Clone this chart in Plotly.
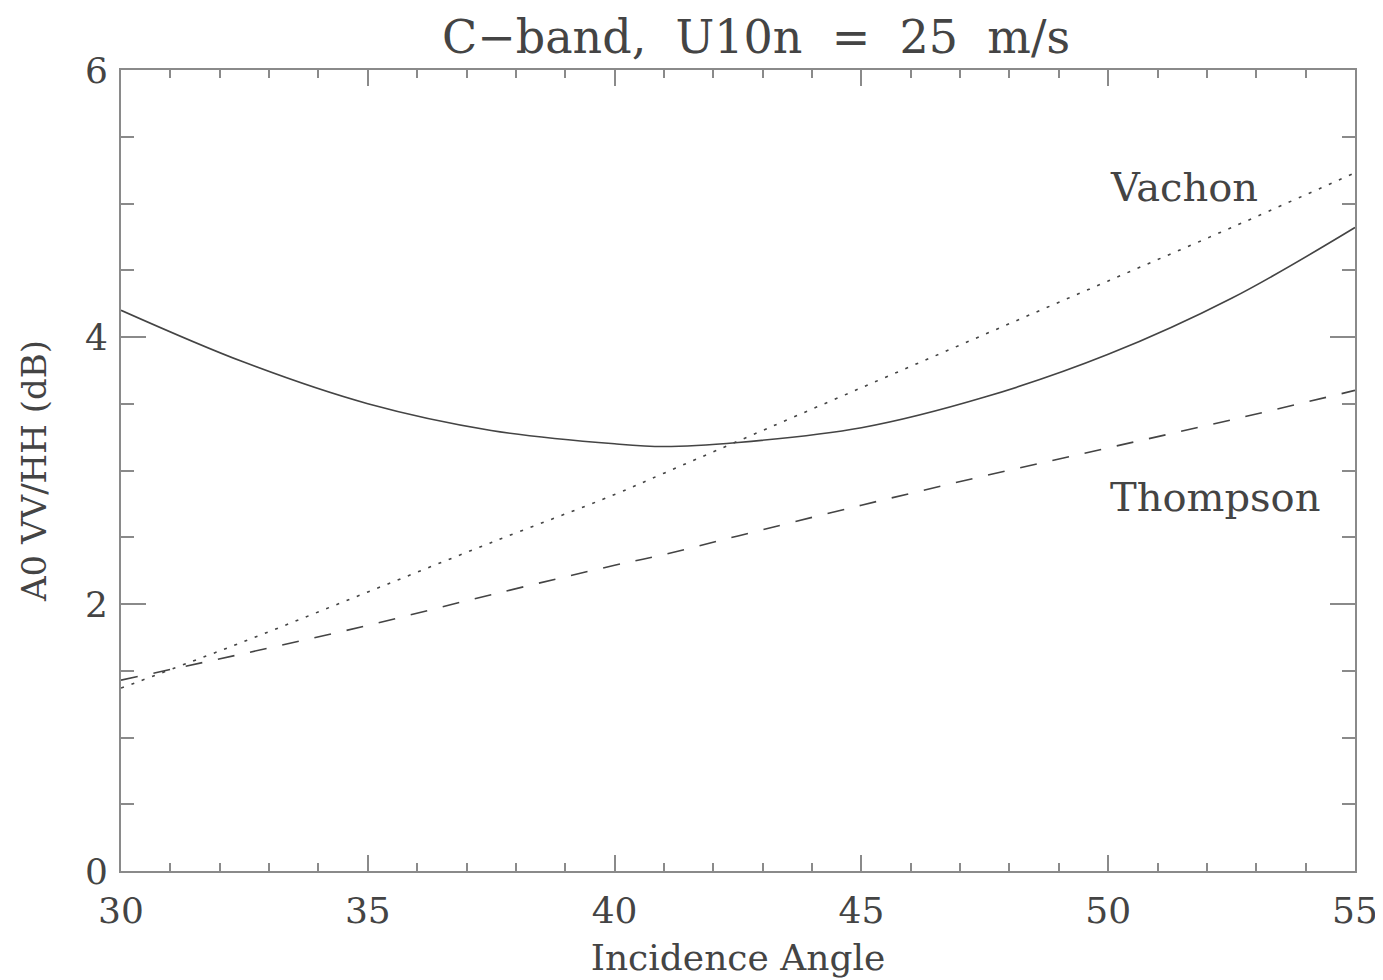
import plotly.graph_objects as go

# incidence angles (deg) and A0 VV/HH ratio (dB)
angle = [30, 32.5, 35, 37.5, 40, 41, 42.5, 45, 47.5, 50, 52.5, 55]
solid = [4.20, 3.81, 3.50, 3.30, 3.20, 3.18, 3.21, 3.32, 3.55, 3.87, 4.29, 4.82]
vachon = [1.37, 1.72, 2.09, 2.46, 2.82, 2.98, 3.22, 3.62, 4.02, 4.42, 4.82, 5.23]
thompson = [1.43, 1.63, 1.84, 2.07, 2.29, 2.37, 2.51, 2.74, 2.96, 3.17, 3.38, 3.60]

FONT = "DejaVu Serif"
INK = "#444444"
AXIS = "#8a8a8a"
TEXT = "#444444"

fig = go.Figure()
fig.add_trace(go.Scatter(x=angle, y=solid, mode="lines", line_shape="spline",
                         line=dict(color=INK, width=1.6)))
fig.add_trace(go.Scatter(x=angle, y=vachon, mode="lines", line_shape="spline",
                         line=dict(color=INK, width=1.6, dash="3px,8px")))
fig.add_trace(go.Scatter(x=angle, y=thompson, mode="lines", line_shape="spline",
                         line=dict(color=INK, width=1.6, dash="17px,16px")))

fig.add_annotation(x=50.0, y=5.12, text="Vachon", showarrow=False, xanchor="left",
                   font=dict(family=FONT, size=40, color=TEXT))
fig.add_annotation(x=50.0, y=2.80, text="Thompson", showarrow=False, xanchor="left",
                   font=dict(family=FONT, size=40, color=TEXT))

axis_common = dict(showline=True, linecolor=AXIS, linewidth=2, mirror="ticks",
                   ticks="inside", tickcolor=AXIS, tickwidth=1.5, showgrid=False,
                   zeroline=False, automargin=False,
                   tickfont=dict(family=FONT, size=36, color=TEXT))

fig.update_xaxes(range=[30, 55], dtick=5, ticklen=16, ticklabelstandoff=7,
                 minor=dict(dtick=1, ticklen=8, ticks="inside", tickcolor=AXIS),
                 title=dict(text="Incidence Angle", standoff=15,
                            font=dict(family=FONT, size=36, color=TEXT)),
                 **axis_common)
fig.update_yaxes(range=[0, 6], dtick=2, ticklen=25, ticklabelstandoff=4,
                 minor=dict(dtick=0.5, ticklen=13, ticks="inside", tickcolor=AXIS),
                 title=dict(text="A0 VV/HH (dB)", standoff=28,
                            font=dict(family=FONT, size=34, color=TEXT)),
                 **axis_common)

# the page puts the figure 8px in from the top-left, so size and margins allow for it
fig.update_layout(
    width=1375, height=972,
    margin=dict(l=113, r=28, t=62, b=109, autoexpand=False),
    plot_bgcolor="white", paper_bgcolor="white",
    showlegend=False,
    title=dict(text="C\u2212band,  U10n  =  25  m/s", x=0.544, xanchor="center",
               y=0.97, yanchor="middle", automargin=False,
               font=dict(family=FONT, size=46, color=TEXT)),
)

fig.write_html("out.html")
